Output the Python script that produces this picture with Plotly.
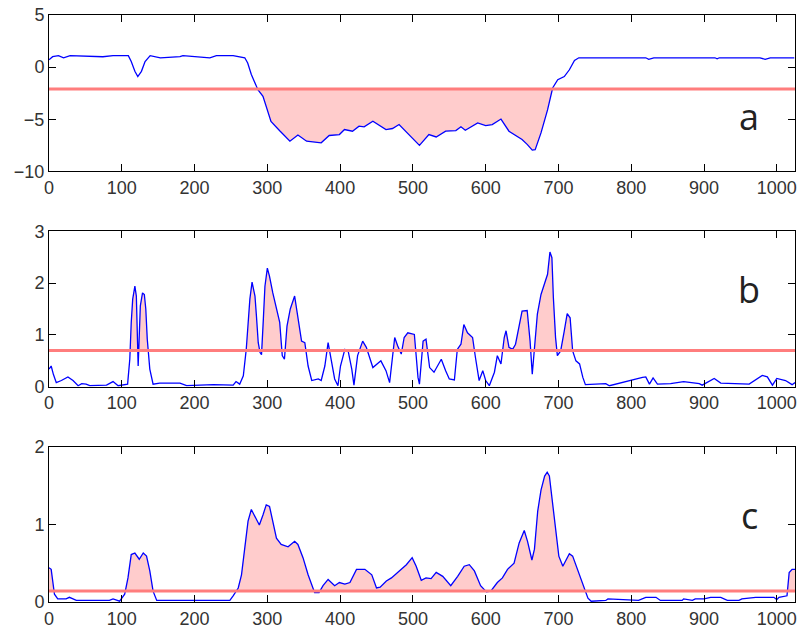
import plotly.graph_objects as go

# ---------------- data ----------------
x_a = [0, 5, 13, 20, 29, 74, 88, 109, 113, 118, 122, 127, 132, 139, 153, 180, 184, 221, 230, 253,
       269, 273, 278, 283, 287, 294, 299, 305, 317, 331, 342, 354, 374, 385, 399, 406, 417, 426,
       433, 445, 463, 472, 481, 495, 509, 522, 532, 545, 559, 566, 572, 589, 600, 609, 621, 632,
       641, 650, 657, 664, 668, 676, 685, 692, 699, 708, 715, 722, 728, 820, 824, 831, 915, 918,
       921, 977, 984, 991, 1024]
y_a = [0.7, 1.0, 1.1, 0.9, 1.1, 1.0, 1.1, 1.1, 0.54, -0.4, -0.9, -0.4, 0.54, 1.1, 0.9, 1.0, 1.1, 0.9, 1.1, 1.1,
       0.9, 0.4, -0.7, -1.5, -2.16, -2.8, -4.0, -5.2, -6.1, -7.1, -6.5, -7.1, -7.25, -6.55, -6.46, -5.98, -6.14, -5.66,
       -5.72, -5.18, -5.98, -5.88, -5.5, -6.46, -7.5, -6.46, -6.69, -6.14, -6.08, -5.72, -6.05, -5.34, -5.6, -5.5, -4.97, -6.14,
       -6.55, -6.94, -7.4, -7.95, -7.9, -6.3, -4.1, -2.0, -1.2, -0.9, -0.25, 0.64, 0.9, 0.9, 0.75, 0.9, 0.9, 0.8,
       0.9, 0.9, 0.75, 0.9, 0.9]
thr_a = -2.1

x_b = [0, 3, 6, 10, 17, 26, 33, 40, 45, 51, 56, 79, 88, 95, 108, 111, 113, 115, 118, 120, 122.5, 124, 125.5,
       128.5, 131, 133, 135, 138.5, 143, 152, 180, 189, 226, 253, 257, 262, 267, 271, 273, 276, 279, 283, 285,
       287.5, 290, 292, 294.5, 296.7, 300, 303, 307.5, 312, 317, 320.5, 323.5, 327, 331.5, 337.5, 342, 347,
       351.5, 356, 361, 370, 374, 379, 383.5, 388, 392.5, 397, 400.5, 406.5, 411, 416, 419, 424, 431, 436,
       445, 456, 463, 468, 475, 479, 484, 488, 493, 502, 507, 509, 514, 518, 523, 529, 539, 545, 550, 557,
       561, 566, 570, 575, 582, 586, 591, 596, 600, 605, 612, 616, 621, 625.5, 628, 632, 637, 641, 646, 650,
       657, 661, 664, 668, 671, 676, 680, 685, 688.3, 691, 693, 696, 698.5, 703, 708, 712, 716, 719.5, 724,
       729, 733.5, 737, 765, 770, 815.5, 820, 825, 830, 836, 854, 872, 888, 893.5, 897.5, 914, 923, 948,
       962, 980, 987, 994, 1000, 1012, 1021, 1025]
y_b = [0.34, 0.40, 0.24, 0.08, 0.12, 0.19, 0.12, 0.02, 0.06, 0.05, 0.02, 0.03, 0.10, 0.02, 0.05, 0.53, 1.24, 1.69, 1.94, 1.75, 0.40, 0.92, 1.56,
       1.81, 1.78, 1.5, 0.92, 0.34, 0.05, 0.07, 0.07, 0.02, 0.04, 0.03, 0.10, 0.05, 0.21, 0.72, 1.17, 1.69, 2.02, 1.75, 1.37,
       0.85, 0.66, 0.62, 1.3, 1.94, 2.29, 2.13, 1.81, 1.56, 1.24, 0.6, 0.53, 1.17, 1.5, 1.75, 1.37, 0.88,
       0.85, 0.40, 0.12, 0.15, 0.12, 0.40, 0.85, 0.47, 0.15, 0.02, 0.40, 0.72, 0.69, 0.34, 0.03, 0.6, 0.88, 0.76,
       0.37, 0.5, 0.31, 0.08, 0.95, 0.79, 0.63, 0.95, 1.04, 1.01, 0.18, 0.05, 0.88, 0.92, 0.37, 0.28, 0.53, 0.31, 0.15, 0.13,
       0.72, 0.82, 1.2, 1.04, 0.95, 0.56, 0.12, 0.31, 0.12, 0.02, 0.28, 0.6, 0.44, 0.95, 1.08, 0.76, 0.72, 0.82, 1.2, 1.46,
       1.47, 0.88, 0.24, 0.88, 1.4, 1.78, 1.97, 2.17, 2.6, 2.49, 1.72, 0.95, 0.6, 0.69, 1.08, 1.41, 1.33, 0.69, 0.5,
       0.44, 0.18, 0.04, 0.06, 0.02, 0.18, 0.19, 0.05, 0.17, 0.05, 0.06, 0.1, 0.08, 0.06, 0.03, 0.16, 0.07, 0.06,
       0.05, 0.22, 0.19, 0.03, 0.16, 0.12, 0.04, 0.08]
thr_b = 0.7

x_c = [0, 3, 7.5, 12, 23.5, 28, 33, 37.5, 83, 88, 97, 104, 108.5, 113, 118, 124, 129.5, 134, 138.5, 143, 148,
       248.5, 253, 260, 264.5, 269, 273.5, 278, 283, 289, 294, 298.5, 303, 308, 312.5, 319, 328.5, 337.5, 342,
       349, 356, 365, 371, 376.5, 383.5, 392.5, 399, 406.5, 413.5, 422.5, 434, 443.5, 450, 455, 463.5, 470.5,
       482, 491, 499, 504.5, 511.5, 518, 525, 532, 541, 552, 561.5, 570.5, 577.5, 584.5, 593, 601, 607, 616,
       623, 630, 639, 646, 653, 657.5, 663.5, 667, 671.5, 676, 681, 684.5, 687.5, 692, 697, 700.5, 706, 710.5,
       715, 719.5, 724.5, 731, 736, 740.5, 745, 765, 768, 810, 820, 834, 840, 870, 872, 884, 888, 900, 909,
       923, 932, 948, 952, 971, 996, 1000, 1003, 1014, 1017, 1021, 1025]
y_c = [0.44, 0.42, 0.10, 0.04, 0.04, 0.06, 0.04, 0.02, 0.02, 0.04, 0.01, 0.10, 0.31, 0.61, 0.63, 0.55, 0.63, 0.59, 0.40, 0.14, 0.02,
       0.02, 0.08, 0.18, 0.35, 0.74, 1.04, 1.19, 1.10, 0.99, 1.12, 1.25, 1.23, 1.0, 0.82, 0.74, 0.71, 0.78, 0.74,
       0.57, 0.35, 0.12, 0.12, 0.21, 0.29, 0.21, 0.25, 0.23, 0.25, 0.42, 0.42, 0.35, 0.18, 0.19, 0.27, 0.31,
       0.41, 0.48, 0.57, 0.46, 0.28, 0.31, 0.30, 0.38, 0.33, 0.21, 0.33, 0.46, 0.48, 0.40, 0.21, 0.13, 0.14, 0.25,
       0.31, 0.42, 0.50, 0.76, 0.92, 0.78, 0.54, 0.68, 1.17, 1.44, 1.62, 1.67, 1.62, 1.27, 0.91, 0.59, 0.46, 0.55,
       0.62, 0.59, 0.46, 0.29, 0.16, 0.05, 0.01, 0.02, 0.04, 0.02, 0.06, 0.06, 0.02, 0.02, 0.04, 0.02, 0.04, 0.04, 0.06,
       0.06, 0.02, 0.02, 0.04, 0.06, 0.06, 0.03, 0.06, 0.08, 0.38, 0.42, 0.42]
thr_c = 0.14

x_ticks = [0, 100, 200, 300, 400, 500, 600, 700, 800, 900, 1000]
panel_labels = ["a", "b", "c"]
panels = [
    dict(x=x_a, y=y_a, thr=thr_a, above=False, yrange=[-10, 5], yticks=[-10, -5, 0, 5]),
    dict(x=x_b, y=y_b, thr=thr_b, above=True, yrange=[0, 3], yticks=[0, 1, 2, 3]),
    dict(x=x_c, y=y_c, thr=thr_c, above=True, yrange=[0, 2], yticks=[0, 1, 2]),
]
domains = [[0.7334, 1.0], [0.3667, 0.6316], [0.0, 0.2649]]
X_RANGE = [0, 1025]
label_y_px = [117, 290, 517]   # text-box centre of the panel letters, px from top


def exceed_polygon(x, y, thr, above):
    """Polygon of the region between the curve and the threshold where it exceeds it."""
    xs, ys = [], []
    for i in range(len(x)):
        if i > 0:
            d0, d1 = y[i - 1] - thr, y[i] - thr
            if d0 * d1 < 0:
                t = d0 / (d0 - d1)
                xs.append(x[i - 1] + t * (x[i] - x[i - 1]))
                ys.append(thr)
        v = max(y[i], thr) if above else min(y[i], thr)
        xs.append(x[i])
        ys.append(v)
    xs += [x[-1], x[0]]
    ys += [thr, thr]
    return xs, ys


fig = go.Figure()
layout = dict(
    width=802, height=634,
    margin=dict(l=49, r=5, t=15, b=30),
    paper_bgcolor="white", plot_bgcolor="white",
    showlegend=False,
    font=dict(family="Liberation Sans, Arial, sans-serif", size=18, color="#333333"),
)
annotations = []
for i, p in enumerate(panels):
    n = "" if i == 0 else str(i + 1)
    xa, ya = "x" + n, "y" + n
    px, py = exceed_polygon(p["x"], p["y"], p["thr"], p["above"])
    fig.add_trace(go.Scatter(x=px, y=py, xaxis=xa, yaxis=ya, mode="lines", fill="toself",
                             fillcolor="rgb(255,204,204)", line=dict(width=0), hoverinfo="skip"))
    fig.add_trace(go.Scatter(x=p["x"], y=p["y"], xaxis=xa, yaxis=ya, mode="lines",
                             line=dict(color="#0000FF", width=1.3)))
    fig.add_trace(go.Scatter(x=X_RANGE, y=[p["thr"], p["thr"]], xaxis=xa, yaxis=ya, mode="lines",
                             line=dict(color="rgb(255,125,125)", width=3)))
    common = dict(showline=True, linecolor="black", linewidth=1, mirror="ticks", ticks="inside",
                  ticklen=7, tickcolor="black", showgrid=False, zeroline=False)
    layout["xaxis" + n] = dict(domain=[0, 1], range=X_RANGE, tickvals=x_ticks, anchor=ya, **common)
    layout["yaxis" + n] = dict(domain=domains[i], range=p["yrange"], tickvals=p["yticks"], anchor=xa, **common)
    annotations.append(dict(
        xref=xa, yref="paper", x=962, y=(634 - 30 - label_y_px[i]) / 589,
        text=panel_labels[i], showarrow=False, xanchor="center", yanchor="middle",
        font=dict(family="Open Sans, Noto Sans, sans-serif", size=36, color="#222222")))

layout["annotations"] = annotations
fig.update_layout(**layout)
fig.write_html("out.html")
